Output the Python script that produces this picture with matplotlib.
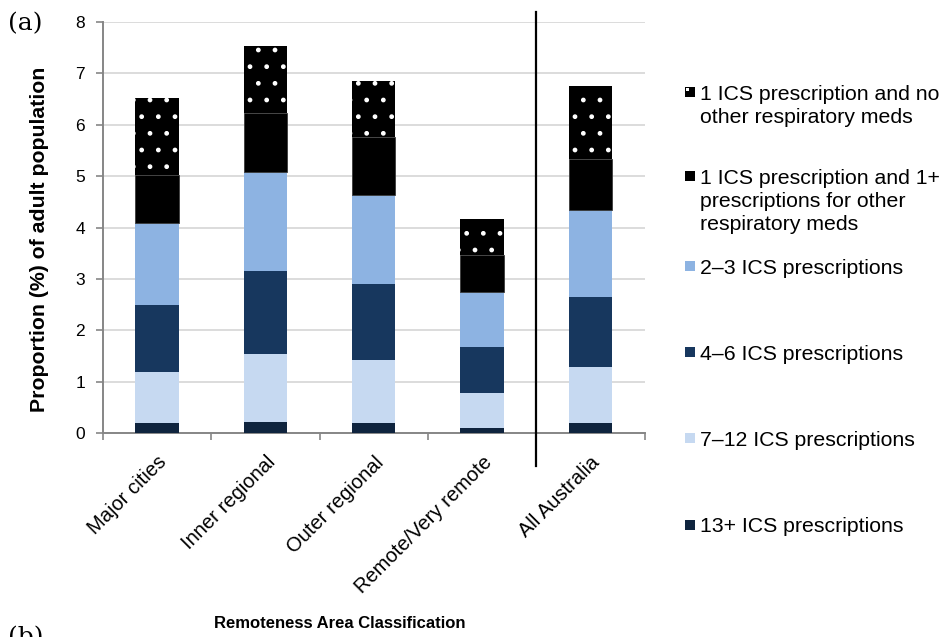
import matplotlib
matplotlib.use("Agg")
import matplotlib.pyplot as plt
import matplotlib.transforms as mtransforms
from matplotlib.patches import Rectangle
import numpy as np

plt.rcParams['font.family'] = ['Liberation Sans', 'DejaVu Sans']
plt.rcParams['hatch.linewidth'] = 1.0

categories = ["Major cities", "Inner regional", "Outer regional", "Remote/Very remote", "All Australia"]
series_names = [
    "13+ ICS prescriptions",
    "7\u201312 ICS prescriptions",
    "4\u20136 ICS prescriptions",
    "2\u20133 ICS prescriptions",
    "1 ICS prescription and 1+\nprescriptions for other\nrespiratory meds",
    "1 ICS prescription and no\nother respiratory meds",
]
s13 = [0.20, 0.22, 0.21, 0.10, 0.21]
s7_12 = [1.00, 1.32, 1.22, 0.69, 1.07]
s4_6 = [1.30, 1.62, 1.48, 0.88, 1.38]
s2_3 = [1.60, 1.92, 1.73, 1.07, 1.68]
s1_other = [0.93, 1.15, 1.12, 0.72, 0.99]
s1_none = [1.50, 1.31, 1.09, 0.70, 1.43]
series_values = [s13, s7_12, s4_6, s2_3, s1_other, s1_none]
colors = ['#0F243E', '#C6D9F1', '#17375E', '#8DB3E2', '#000000', '#000000']
hatches = [None, None, None, None, None, '.']
y_ticks = [0, 1, 2, 3, 4, 5, 6, 7, 8]

W, H = 946, 637
fig = plt.figure(figsize=(W / 100, H / 100), dpi=100)
ax_left, ax_right, ax_top, ax_bot = 103, 644.5, 22, 433.3
ax = fig.add_axes([ax_left / W, 1 - ax_bot / H, (ax_right - ax_left) / W, (ax_bot - ax_top) / H])

x = np.arange(len(categories))
bottom = np.zeros(len(categories))
for vals, col, hat in zip(series_values, colors, hatches):
    vals = np.array(vals)
    if hat:
        ax.bar(x, vals, 0.4, bottom=bottom, color=col, edgecolor='white', linewidth=0,
               hatch=hat, zorder=3)
    else:
        ax.bar(x, vals, 0.4, bottom=bottom, color=col, edgecolor='#3a3a3a' if col == '#000000' else col,
               linewidth=0.6 if col == '#000000' else 0, zorder=3)
    bottom += vals

ax.set_xlim(-0.5, len(categories) - 0.5)
ax.set_ylim(0, 8)
ax.set_yticks(y_ticks)
ax.set_yticklabels([str(t) for t in y_ticks], fontsize=12.5)
ax.yaxis.grid(True, color='#d9d9d9', linewidth=1.3, zorder=0)
ax.set_axisbelow(True)
for s in ['top', 'right']:
    ax.spines[s].set_visible(False)
for s in ['left', 'bottom']:
    ax.spines[s].set_color('#868686')
    ax.spines[s].set_linewidth(1.4)
ax.tick_params(axis='y', length=5, width=1.2, color='#868686', pad=8)

ax.set_xticks(x)
ax.set_xticks(np.arange(len(categories) + 1) - 0.5, minor=True)
ax.tick_params(axis='x', which='major', length=0, pad=14)
ax.tick_params(axis='x', which='minor', length=5, width=1.2, color='#868686', direction='out')
ax.set_xticklabels(categories, rotation=45, ha='right', va='top', rotation_mode='anchor', fontsize=14.5)

# separator between regions and All Australia
sep_x = len(categories) - 1.5
ax.plot([sep_x, sep_x], [8.2, -0.64], color='black', linewidth=1.6, clip_on=False, zorder=5)

ax.set_ylabel("Proportion (%) of adult population", fontsize=15.3, fontweight='bold')
ax.yaxis.set_label_coords((40 - ax_left) / (ax_right - ax_left), 1 - (239 - ax_top) / (ax_bot - ax_top))
ax.yaxis.label.set_va('center')
ax.set_xlabel("Remoteness Area Classification", fontsize=12.0, fontweight='bold')
ax.xaxis.set_label_coords((340 - ax_left) / (ax_right - ax_left), -(623 - ax_bot) / (ax_bot - ax_top))
ax.xaxis.label.set_va('center')

fig.text(8 / W, 1 - 24 / H, "(a)", fontsize=18, family='DejaVu Serif', va='center', ha='left')
fig.text(8 / W, 1 - 626 / H, "(b)", fontsize=18, family='DejaVu Serif', va='top', ha='left')

# legend (manual, Excel-like vertical distribution)
legend_y = [92, 176, 266, 352, 438, 525]
line_h = 23.5
order = list(range(len(series_names)))[::-1]
for ypix, idx in zip(legend_y, order):
    sq = 10
    fig.patches.append(Rectangle(((685) / W, 1 - (ypix + sq / 2) / H), sq / W, sq / H,
                                 transform=fig.transFigure, facecolor=colors[idx], edgecolor='none'))
    if hatches[idx]:
        fig.patches.append(Rectangle(((686) / W, 1 - (ypix - 1) / H), 3 / W, 3 / H,
                                     transform=fig.transFigure, facecolor='white', edgecolor='none'))
    for i, line in enumerate(series_names[idx].split("\n")):
        fig.text(700 / W, 1 - (ypix + 7.5 + i * line_h) / H, line, fontsize=15.3,
                 va='baseline', ha='left')

fig.savefig("out.png", dpi=100)
